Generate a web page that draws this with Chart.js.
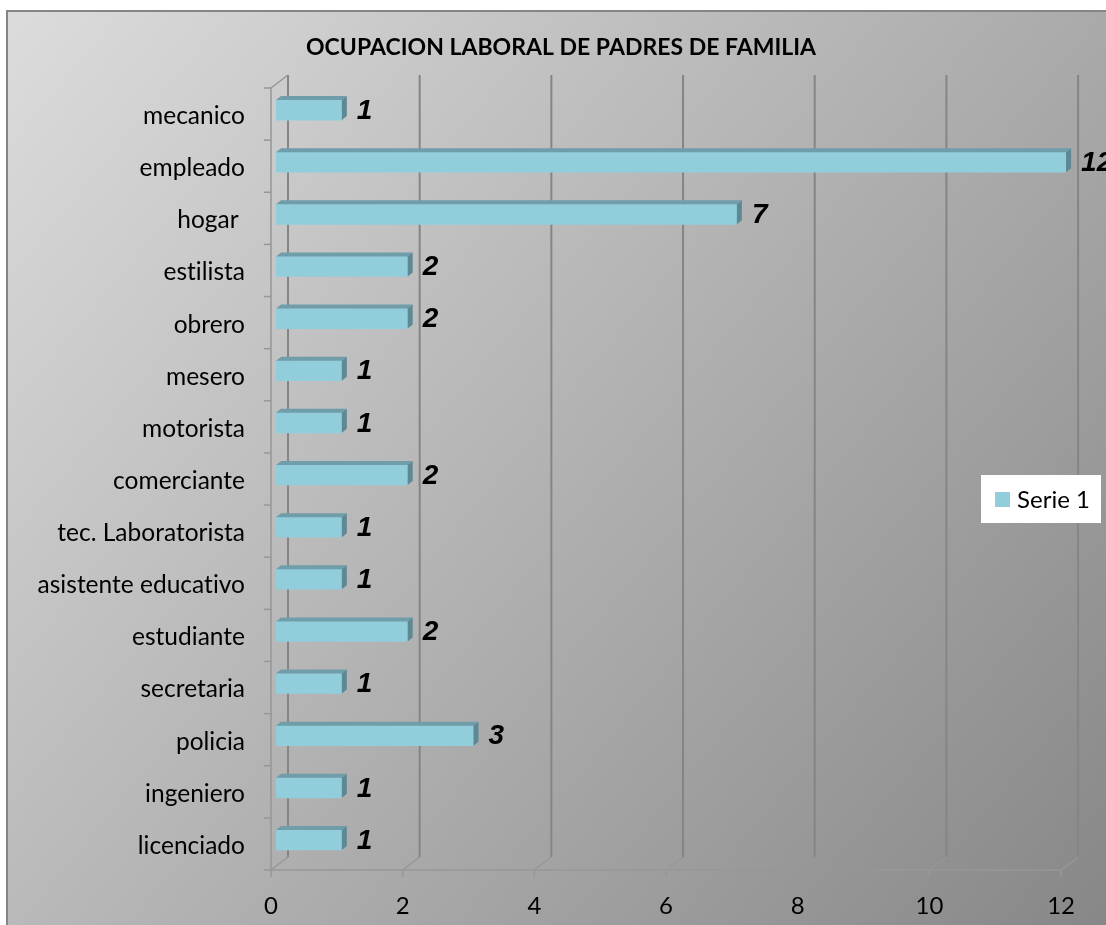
<!DOCTYPE html>
<html>
<head>
<meta charset="utf-8">
<script src="https://cdn.jsdelivr.net/npm/chart.js@4/dist/chart.umd.min.js"></script>
<style>
  html, body { margin: 0; padding: 0; background: #ffffff; }
  #wrap { width: 1106px; height: 925px; }
  canvas { font-variant-ligatures: none; }
</style>
</head>
<body>
<div id="wrap"><canvas id="c" width="1106" height="925"></canvas></div>
<script>
const chartTitle = "OCUPACION LABORAL DE PADRES DE FAMILIA";
const categories = ["mecanico", "empleado", "hogar ", "estilista", "obrero", "mesero", "motorista",
  "comerciante", "tec. Laboratorista", "asistente educativo", "estudiante", "secretaria",
  "policia", "ingeniero", "licenciado"];
const seriesName = "Serie 1";
const seriesValues = [1, 12, 7, 2, 2, 1, 1, 2, 1, 1, 2, 1, 3, 1, 1];
const xTicks = [0, 2, 4, 6, 8, 10, 12];

const FRONT = '#92CDDC', TOP = '#6F9DA9', SIDE = '#5E8994';
const LABEL_FONT = 'Lato, "Open Sans", sans-serif';

const bg3d = {
  id: 'bg3d',
  beforeDraw(chart) {
    const ctx = chart.ctx, W = chart.width, H = chart.height;
    if ('letterSpacing' in ctx) ctx.letterSpacing = '0.01px';
    ctx.save();
    ctx.fillStyle = '#ffffff';
    ctx.fillRect(0, 0, W, H);
    const g = ctx.createLinearGradient(7, 11, 1106, 925);
    g.addColorStop(0, '#dcdcdc');
    g.addColorStop(1, '#878787');
    ctx.fillStyle = g;
    ctx.fillRect(7, 11, W - 7, H - 11);
    ctx.strokeStyle = '#858585';
    ctx.lineWidth = 2;
    ctx.strokeRect(7, 11, W + 10, H + 10);
    ctx.restore();
  },
  beforeDatasetsDraw(chart) {
    const ctx = chart.ctx, xs = chart.scales.x, a = chart.chartArea;
    const fTop = a.top + 4, fBot = a.bottom + 4, dx = 17, dy = 13;
    ctx.save();
    ctx.lineCap = 'butt';
    xTicks.forEach(v => {
      const fx = xs.getPixelForValue(v) - 5, bx = fx + dx;
      ctx.strokeStyle = '#858585';
      ctx.lineWidth = 2;
      ctx.beginPath();
      ctx.moveTo(bx, fTop - dy);
      ctx.lineTo(bx, fBot - dy);
      ctx.stroke();
      ctx.strokeStyle = '#979797';
      ctx.lineWidth = 1.5;
      ctx.beginPath();
      ctx.moveTo(bx, fBot - dy);
      ctx.lineTo(fx, fBot);
      ctx.stroke();
      ctx.beginPath();
      ctx.moveTo(fx, fBot);
      ctx.lineTo(fx, fBot + 7);
      ctx.stroke();
    });
    const x0 = xs.getPixelForValue(0) - 5, x12 = xs.getPixelForValue(12) - 5;
    ctx.strokeStyle = '#979797';
    ctx.lineWidth = 1.5;
    ctx.beginPath();
    ctx.moveTo(x0, fBot);
    ctx.lineTo(x12, fBot);
    ctx.stroke();
    ctx.beginPath();
    ctx.moveTo(x0, fBot);
    ctx.lineTo(x0, fTop);
    ctx.lineTo(x0 + dx, fTop - dy);
    ctx.stroke();
    const n = categories.length, step = (fBot - fTop) / n;
    for (let i = 0; i <= n; i++) {
      const y = fTop + i * step;
      ctx.beginPath();
      ctx.moveTo(x0 - 7, y);
      ctx.lineTo(x0, y);
      ctx.stroke();
    }
    ctx.restore();
  },
  afterDatasetsDraw(chart) {
    const ctx = chart.ctx, meta = chart.getDatasetMeta(0);
    const d = 5, e = 4;
    ctx.save();
    meta.data.forEach((bar, i) => {
      const p = bar.getProps(['x', 'y', 'base', 'height'], true);
      const t = p.y - p.height / 2, b = p.y + p.height / 2;
      ctx.fillStyle = TOP;
      ctx.beginPath();
      ctx.moveTo(p.base, t);
      ctx.lineTo(p.x, t);
      ctx.lineTo(p.x + d, t - e);
      ctx.lineTo(p.base + d, t - e);
      ctx.closePath();
      ctx.fill();
      ctx.fillStyle = SIDE;
      ctx.beginPath();
      ctx.moveTo(p.x, t);
      ctx.lineTo(p.x + d, t - e);
      ctx.lineTo(p.x + d, b - e);
      ctx.lineTo(p.x, b);
      ctx.closePath();
      ctx.fill();
      ctx.fillStyle = '#000000';
      ctx.font = 'italic bold 28px "Liberation Sans", Arial, sans-serif';
      ctx.textAlign = 'left';
      ctx.textBaseline = 'middle';
      ctx.fillText(String(seriesValues[i]), p.x + 15, p.y + 1);
    });
    ctx.restore();
  },
  afterDraw(chart) {
    const ctx = chart.ctx;
    ctx.save();
    ctx.fillStyle = '#000000';
    ctx.font = 'bold 23px ' + LABEL_FONT;
    ctx.textAlign = 'center';
    ctx.textBaseline = 'middle';
    ctx.fillText(chartTitle, 561, 48);
    ctx.fillStyle = '#ffffff';
    ctx.fillRect(981, 475, 120, 48);
    ctx.fillStyle = FRONT;
    ctx.fillRect(995, 492, 15, 15);
    ctx.fillStyle = '#000000';
    ctx.font = '24px ' + LABEL_FONT;
    ctx.textAlign = 'left';
    ctx.fillText(seriesName, 1017, 500);
    ctx.restore();
  }
};

new Chart(document.getElementById('c'), {
  type: 'bar',
  data: {
    labels: categories,
    datasets: [{
      label: seriesName,
      data: seriesValues,
      backgroundColor: FRONT,
      borderWidth: 0,
      barThickness: 20
    }]
  },
  options: {
    indexAxis: 'y',
    responsive: false,
    animation: false,
    events: [],
    layout: { padding: { top: 84, left: 0, right: 38, bottom: 0 } },
    plugins: { legend: { display: false }, title: { display: false }, tooltip: { enabled: false } },
    scales: {
      x: {
        min: 0, max: 12,
        afterFit(s) { s.height = 59; },
        afterBuildTicks(s) { s.ticks = xTicks.map(v => ({ value: v })); },
        grid: { display: false, drawTicks: false },
        border: { display: false },
        ticks: { padding: 26, labelOffset: -5, color: '#000000', font: { family: LABEL_FONT, size: 24 } }
      },
      y: {
        afterFit(s) { s.width = 276; },
        grid: { display: false, drawTicks: false },
        border: { display: false },
        ticks: { padding: 31, labelOffset: 6, color: '#000000', autoSkip: false, font: { family: LABEL_FONT, size: 24.5 } }
      }
    }
  },
  plugins: [bg3d]
});
</script>
</body>
</html>
